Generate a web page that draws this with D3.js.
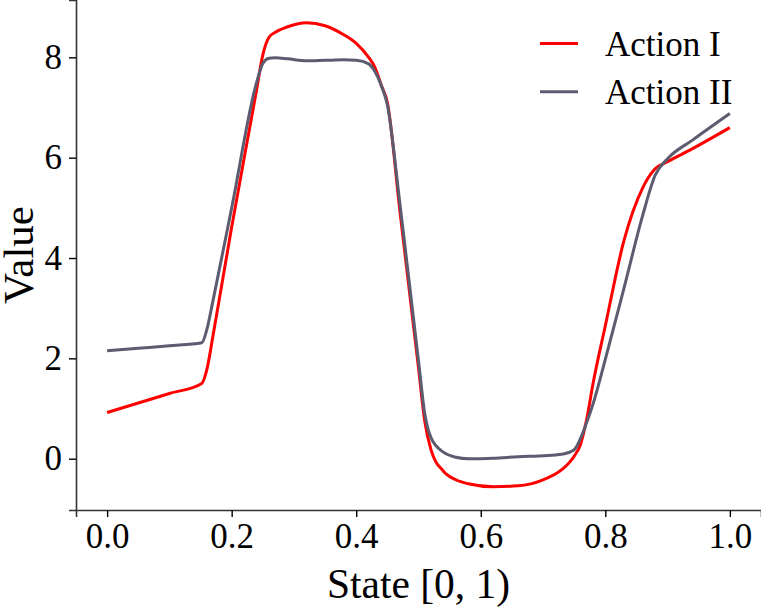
<!DOCTYPE html>
<html>
<head>
<meta charset="utf-8">
<script src="https://cdn.jsdelivr.net/npm/d3@7"></script>
<style>
  html, body { margin: 0; padding: 0; background: #fff; }
  svg { display: block; }
  text { font-family: "Liberation Serif", "Times New Roman", serif; fill: #000; }
</style>
</head>
<body>
<svg id="chart" width="761" height="609"></svg>
<script>
// ---- data ----
const states = [0, 0.05, 0.10, 0.152, 0.16, 0.17, 0.20, 0.24, 0.25, 0.26, 0.27, 0.29, 0.32, 0.35, 0.38, 0.40, 0.42, 0.43, 0.44, 0.45, 0.47, 0.49, 0.50, 0.51, 0.52, 0.54, 0.56, 0.58, 0.62, 0.66, 0.70, 0.73, 0.75, 0.76, 0.77, 0.78, 0.80, 0.83, 0.86, 0.88, 0.90, 0.94, 1.0];
const actionI  = [0.92, 1.11, 1.30, 1.50, 1.77, 2.45, 4.62, 7.35, 8.05, 8.40, 8.50, 8.61, 8.69, 8.63, 8.45, 8.28, 8.00, 7.80, 7.45, 7.10, 4.95, 2.86, 1.81, 0.75, 0.18, -0.25, -0.42, -0.50, -0.56, -0.54, -0.42, -0.22, 0.05, 0.28, 0.78, 1.48, 2.65, 4.35, 5.40, 5.78, 5.92, 6.18, 6.60];
const actionII = [2.15, 2.20, 2.25, 2.31, 2.57, 3.15, 5.00, 7.50, 7.88, 7.98, 7.99, 7.97, 7.93, 7.94, 7.95, 7.94, 7.87, 7.72, 7.45, 7.05, 5.10, 3.00, 1.95, 0.90, 0.42, 0.13, 0.03, 0.00, 0.01, 0.04, 0.06, 0.09, 0.18, 0.40, 0.72, 1.08, 1.98, 3.40, 4.85, 5.65, 5.98, 6.35, 6.88];
const seriesNames = ["Action I", "Action II"];
const xTicks = [0, 0.2, 0.4, 0.6, 0.8, 1.0];
const yTicks = [0, 2, 4, 6, 8];
const xLabel = "State [0, 1)";
const yLabel = "Value";

// ---- layout ----
const svg = d3.select("#chart");
const L = 76, R = 761, T = 0, B = 510;
const colors = ["#ff0000", "#5b5c70"];

const x = d3.scaleLinear().domain([-0.05, 1.05]).range([L, R]);
const y = d3.scaleLinear().domain([-1.0225, 9.143]).range([B, T]);

const series = [actionI, actionII].map((vals, i) => ({
  name: seriesNames[i],
  color: colors[i],
  points: states.map((s, j) => [s, vals[j]])
}));

const line = d3.line()
  .x(d => x(d[0]))
  .y(d => y(d[1]))
  .curve(d3.curveMonotoneX);

svg.append("g").selectAll("path")
  .data(series)
  .join("path")
  .attr("d", d => line(d.points))
  .attr("fill", "none")
  .attr("stroke", d => d.color)
  .attr("stroke-width", 3)
  .attr("stroke-linejoin", "round")
  .attr("stroke-linecap", "butt");

// ---- axes ----
const tickFont = 35;
const xAxis = svg.append("g")
  .attr("transform", `translate(0,${B})`)
  .call(d3.axisBottom(x).tickValues(xTicks).tickFormat(d3.format(".1f")).tickSizeOuter(0).tickSize(7).tickPadding(6));
const yAxis = svg.append("g")
  .attr("transform", `translate(${L},0)`)
  .call(d3.axisLeft(y).tickValues(yTicks).tickFormat(d3.format("d")).tickSizeOuter(0).tickSize(7).tickPadding(7));

[xAxis, yAxis].forEach(g => {
  g.select(".domain").attr("stroke", "#333").attr("stroke-width", 1.6);
  g.selectAll(".tick line").attr("stroke", "#000").attr("stroke-width", 1.4);
  g.selectAll(".tick text")
    .style("font-family", '"Liberation Serif", "Times New Roman", serif')
    .style("font-size", tickFont + "px")
    .attr("fill", "#000");
});

// axis labels
svg.append("text")
  .attr("x", (L + R) / 2)
  .attr("y", 598)
  .attr("text-anchor", "middle")
  .style("font-size", "41.5px")
  .text(xLabel);

svg.append("text")
  .attr("transform", `translate(33,${(T + B) / 2}) rotate(-90)`)
  .attr("text-anchor", "middle")
  .style("font-size", "43px")
  .text(yLabel);

// ---- legend ----
const legend = svg.append("g");
series.forEach((s, i) => {
  const yy = 43.5 + i * 48.3;
  legend.append("line")
    .attr("x1", 540).attr("x2", 578)
    .attr("y1", yy).attr("y2", yy)
    .attr("stroke", s.color)
    .attr("stroke-width", 3);
  legend.append("text")
    .attr("x", 605)
    .attr("y", yy + 12)
    .style("font-size", "35px")
    .text(s.name);
});
</script>
</body>
</html>
